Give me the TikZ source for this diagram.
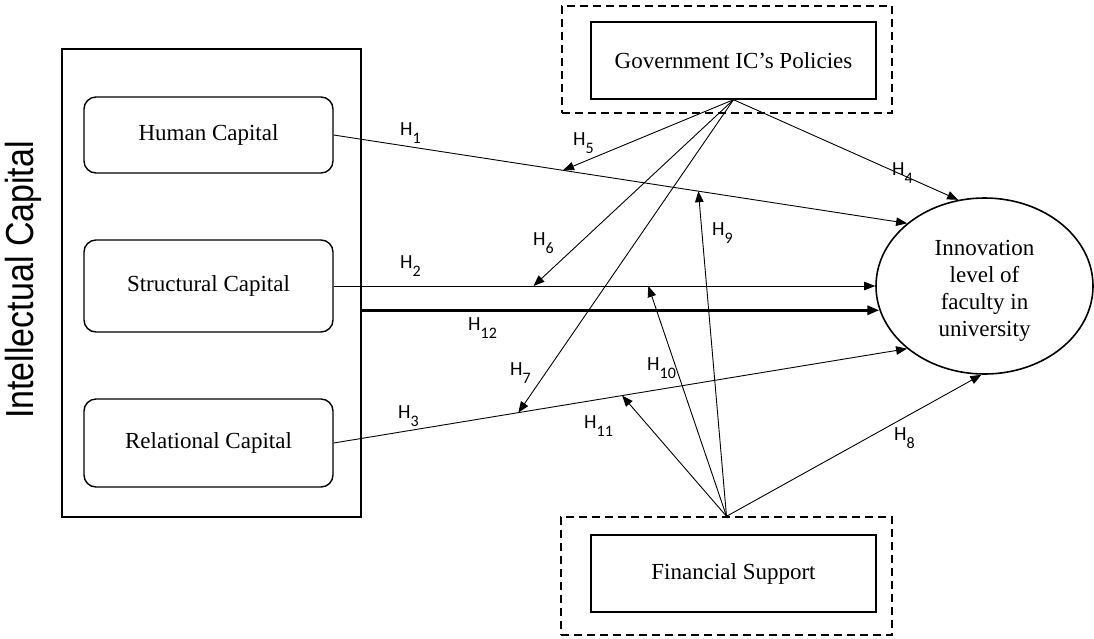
\documentclass[tikz,border=0pt]{standalone}
\usepackage{fontspec}
\setmainfont{Liberation Serif}
\newfontfamily\labfont{Carlito}
\newfontfamily\icfont{Liberation Sans}
\usetikzlibrary{arrows.meta,shapes.geometric,calc}
\newcommand{\hlab}[1]{H\raisebox{-8pt}{\fontsize{16pt}{16pt}\selectfont #1}}
\begin{document}
\begin{tikzpicture}[x=1pt,y=-1pt,
  capbox/.style={draw, line width=1.4pt, rounded corners=12pt, minimum width=249pt, inner sep=0pt, font=\fontsize{23pt}{27pt}\selectfont},
  plainbox/.style={draw, line width=1.4pt, minimum width=285pt, minimum height=77pt, inner sep=0pt, font=\fontsize{23pt}{27pt}\selectfont},
  dashbox/.style={draw, line width=1.4pt, dash pattern=on 8pt off 5pt, inner sep=0pt},
  conn/.style={line width=0.9pt, -{Triangle[length=11pt,width=8.5pt]}},
  hl/.style={anchor=base west, inner sep=0pt, font=\labfont\fontsize{20pt}{20pt}\selectfont}
]
\useasboundingbox (0,0) rectangle (1094,638);

% left group
\node[draw, line width=1.4pt, minimum width=299pt, minimum height=468pt, inner sep=0pt] (ic) at (211.5,283) {};
\node[rotate=90, anchor=base, inner sep=0pt, font=\icfont\fontsize{34pt}{34pt}\selectfont] (ict) at (33,280) {\scalebox{1}[1.15]{Intellectual Capital}};
\node[capbox, minimum height=76pt] (hc) at (208.5,135) {Human Capital};
\node[capbox, minimum height=92pt] (sc) at (208.5,286) {Structural Capital};
\node[capbox, minimum height=88pt] (rc) at (208.5,443) {Relational Capital};

% moderators
\node[dashbox, minimum width=330pt, minimum height=107pt] (govd) at (727,59.5) {};
\node[plainbox] (gov) at (733.5,60.5) {Government IC’s Policies};
\node[dashbox, minimum width=331pt, minimum height=118pt] (find) at (726.5,576) {};
\node[plainbox] (fin) at (733.5,573.5) {Financial Support};

% outcome
\node[draw, ellipse, line width=1.6pt, minimum width=217pt, minimum height=176pt, inner sep=0pt, align=center, font=\fontsize{23pt}{27pt}\selectfont] (inn) at (984.5,286) {\rule{0pt}{24pt}Innovation\\level of\\faculty in\\university};

% main paths
\draw[conn] (hc.east) -- (inn.141);
\draw[conn] (sc.east) -- (inn.west);
\draw[conn] (rc.east) -- (inn.219);
\draw[conn, line width=3pt, -{Triangle[length=12pt,width=9pt]}] (ic.east |- inn.193) -- (inn.193);

% government policies
\draw[conn] (gov.south) -- (inn.107);
\draw[conn] (gov.south) -- ($(hc.east)!0.4!(inn.141)$);
\draw[conn] (gov.south) -- ($(sc.east)!0.369!(inn.west)$);
\draw[conn] (gov.south) -- ($(rc.east)!0.322!(inn.219)$);

% financial support
\draw[conn] (find.north) -- (inn.268);
\draw[conn] (find.north) -- ($(hc.east)!0.636!(inn.141)$);
\draw[conn] (find.north) -- ($(sc.east)!0.581!(inn.west)$);
\draw[conn] (find.north) -- ($(rc.east)!0.503!(inn.219)$);

% labels
\node[hl] (l1) at (400,135) {\hlab{1}};
\node[hl] (l2) at (400,268) {\hlab{2}};
\node[hl] (l3) at (398,418) {\hlab{3}};
\node[hl] (l4) at (892,175) {\hlab{4}};
\node[hl] (l5) at (573,145) {\hlab{5}};
\node[hl] (l6) at (533,245) {\hlab{6}};
\node[hl] (l7) at (510,375) {\hlab{7}};
\node[hl] (l8) at (894,440) {\hlab{8}};
\node[hl] (l9) at (712,235) {\hlab{9}};
\node[hl] (l10) at (647,370) {\hlab{10}};
\node[hl] (l11) at (584,428) {\hlab{11}};
\node[hl] (l12) at (468,330) {\hlab{12}};
\end{tikzpicture}
\end{document}
